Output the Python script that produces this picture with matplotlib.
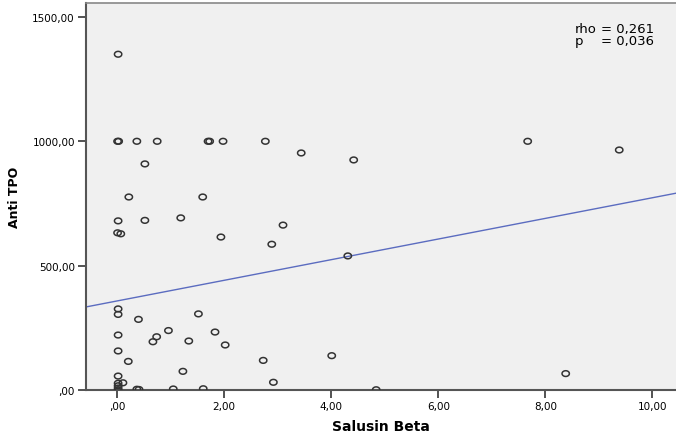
import numpy as np
import matplotlib.pyplot as plt

# Salusin Beta vs Anti TPO
salusin_beta = [0.02, 0.01, 0.03, 0.37, 0.75, 1.70, 1.73, 1.98, 2.77, 7.67,
                9.38, 3.44, 4.42, 0.52, 0.22, 1.60, 0.02, 0.52, 1.19, 3.10,
                0.01, 0.07, 1.94, 2.89, 4.31, 0.02, 0.02, 0.40, 1.52, 0.96,
                1.83, 0.02, 0.74, 0.67, 1.34, 2.02, 0.02, 0.21, 2.73, 4.01,
                1.23, 0.02, 0.11, 0.02, 0.02, 0.02, 0.02, 0.37, 0.41, 1.05,
                1.61, 2.92, 4.84, 8.38]
anti_tpo = [1350, 1000, 1000, 1000, 1000, 1000, 1000, 1000, 1000, 1000,
            965, 953, 925, 909, 776, 776, 680, 682, 692, 663,
            632, 628, 615, 586, 539, 326, 304, 284, 306, 239,
            233, 221, 214, 194, 197, 181, 157, 115, 119, 138,
            75, 56, 29, 27, 17, 8, 0, 3, 2, 4,
            5, 31, 1, 66]

# fit line
fit_intercept = 358.0
fit_slope = 41.5

x_ticks = [0, 2, 4, 6, 8, 10]
x_ticklabels = [",00", "2,00", "4,00", "6,00", "8,00", "10,00"]
y_ticks = [0, 500, 1000, 1500]
y_ticklabels = [",00", "500,00", "1000,00", "1500,00"]

fig = plt.figure(figsize=(6.76, 4.39), dpi=100)
ax = fig.add_axes([86 / 676, 1 - 391 / 439, 1 - 86 / 676, (391 - 4) / 439])
ax.set_facecolor("#f0f0f0")

# slightly flattened circle, like the SPSS markers
t = np.linspace(0, 2 * np.pi, 41)
ellipse = np.column_stack([np.cos(t), 0.78 * np.sin(t)])

ax.scatter(salusin_beta, anti_tpo, s=28, marker=ellipse, facecolors="none",
           edgecolors="#333333", linewidths=1.1, zorder=3)

xlim = (-0.58, 10.44)
xs = np.array(xlim)
ax.plot(xs, fit_intercept + fit_slope * xs, color="#5b6cc0", lw=1.0, zorder=2)

ax.set_xlim(*xlim)
ax.set_ylim(0, 1556)
ax.set_xticks(x_ticks)
ax.set_xticklabels(x_ticklabels)
ax.set_yticks(y_ticks)
ax.set_yticklabels(y_ticklabels)
ax.tick_params(direction="out", length=6, width=1.3, color="#444444",
               labelsize=7.5, pad=2)

for side in ["left", "bottom"]:
    ax.spines[side].set_color("#555555")
    ax.spines[side].set_linewidth(1.5)
ax.spines["top"].set_color("#888888")
ax.spines["top"].set_linewidth(1.2)
ax.spines["right"].set_visible(False)

ax.set_xlabel("Salusin Beta", fontsize=10, fontweight="bold", labelpad=6)
ax.set_ylabel("Anti TPO", fontsize=9, fontweight="bold", labelpad=8)

# rho / p annotation
fig.text(575 / 676, 1 - 33 / 439, "rho", fontsize=9.5, va="baseline")
fig.text(601 / 676, 1 - 33 / 439, "= 0,261", fontsize=9.5, va="baseline")
fig.text(575 / 676, 1 - 45 / 439, "p", fontsize=9.5, va="baseline")
fig.text(601 / 676, 1 - 45 / 439, "= 0,036", fontsize=9.5, va="baseline")

fig.savefig("out.png", dpi=100)
